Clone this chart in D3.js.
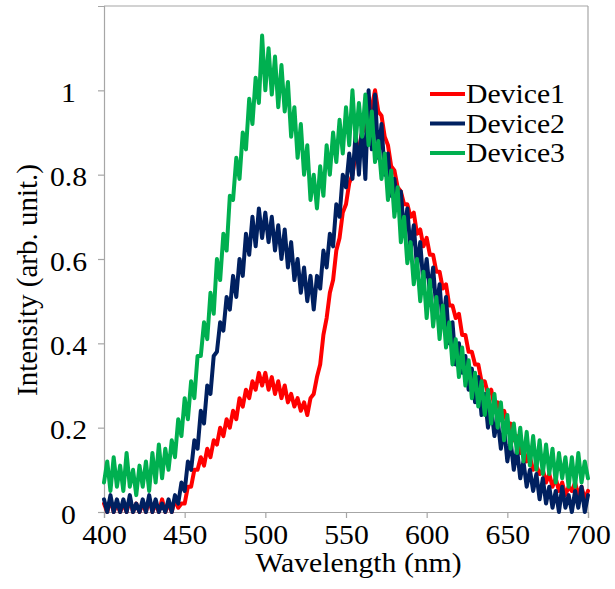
<!DOCTYPE html>
<html><head><meta charset="utf-8">
<script src="https://cdn.jsdelivr.net/npm/d3@7"></script>
</head><body style="margin:0">
<svg id="c" width="615" height="589"></svg>
<script>
// Wavelength grid (nm), 2 nm sampling
const wavelengths = d3.range(400, 701, 2);
const seriesNames = ["Device1", "Device2", "Device3"];
const seriesColors = ["#FF0000", "#002060", "#00B050"];
const xTicks = [400, 450, 500, 550, 600, 650, 700];
const yTicks = [0, 0.2, 0.4, 0.6, 0.8, 1];
const xTitle = "Wavelength (nm)";
const yTitle = "Intensity (arb. unit.)";

const device1 = [
0.02,0.00,0.03,0.00,0.02, 0.00,0.02,0.00,0.03,0.00,
0.02,0.00,0.02,0.00,0.03, 0.00,0.02,0.00,0.03,0.00,
0.02,0.00,0.03,0.01,0.02, 0.02,0.06,0.06,0.10,0.10,
0.13,0.11,0.15,0.13,0.17, 0.16,0.20,0.18,0.22,0.20,
0.24,0.22,0.27,0.25,0.29, 0.27,0.31,0.29,0.33,0.30,
0.33,0.29,0.32,0.28,0.31, 0.27,0.30,0.26,0.28,0.25,
0.27,0.24,0.26,0.23,0.27, 0.28,0.32,0.35,0.42,0.46,
0.52,0.55,0.62,0.65,0.71, 0.73,0.78,0.80,0.85,0.86,
0.90,0.91,0.95,0.96,1.00, 0.95,0.94,0.89,0.87,0.82,
0.81,0.77,0.76,0.73,0.73, 0.70,0.71,0.66,0.67,0.63,
0.65,0.61,0.61,0.57,0.57, 0.53,0.54,0.49,0.49,0.46,
0.47,0.42,0.42,0.38,0.38, 0.35,0.35,0.31,0.31,0.28,
0.29,0.25,0.26,0.23,0.24, 0.21,0.21,0.17,0.18,0.14,
0.15,0.12,0.13,0.10,0.11, 0.09,0.10,0.07,0.09,0.06,
0.08,0.05,0.07,0.04,0.06, 0.05,0.07,0.04,0.06,0.03,
0.05];

const device2 = [
0.03,0.00,0.04,0.00,0.03, 0.00,0.03,0.00,0.04,0.00,
0.02,0.00,0.03,0.00,0.04, 0.00,0.03,0.00,0.02,0.00,
0.03,0.00,0.04,0.02,0.07, 0.05,0.12,0.10,0.17,0.15,
0.24,0.21,0.30,0.28,0.37, 0.38,0.45,0.43,0.51,0.48,
0.56,0.51,0.60,0.56,0.66, 0.61,0.70,0.63,0.72,0.65,
0.71,0.64,0.70,0.62,0.68, 0.60,0.67,0.58,0.64,0.55,
0.60,0.52,0.58,0.50,0.56, 0.48,0.56,0.53,0.62,0.58,
0.66,0.63,0.73,0.70,0.80, 0.77,0.85,0.79,0.90,0.80,
0.92,0.79,1.00,0.86,0.99, 0.84,0.92,0.80,0.85,0.75,
0.79,0.72,0.76,0.66,0.72, 0.62,0.68,0.58,0.64,0.54,
0.60,0.52,0.58,0.48,0.54, 0.44,0.51,0.40,0.45,0.35,
0.40,0.33,0.37,0.29,0.34, 0.26,0.32,0.23,0.28,0.20,
0.25,0.18,0.22,0.15,0.20, 0.12,0.17,0.10,0.15,0.08,
0.12,0.06,0.10,0.05,0.09, 0.03,0.08,0.02,0.06,0.01,
0.05,0.00,0.06,0.01,0.04, 0.00,0.05,0.01,0.06,0.00,
0.04];

const device3 = [
0.07,0.12,0.05,0.13,0.06, 0.11,0.05,0.14,0.06,0.10,
0.04,0.11,0.06,0.12,0.05, 0.14,0.07,0.16,0.08,0.15,
0.10,0.17,0.13,0.22,0.18, 0.27,0.22,0.31,0.27,0.37,
0.37,0.45,0.41,0.52,0.47, 0.60,0.55,0.66,0.62,0.75,
0.74,0.84,0.79,0.90,0.86, 0.98,0.92,1.03,0.97,1.13,
1.00,1.10,0.99,1.08,0.96, 1.06,0.95,1.02,0.89,0.96,
0.84,0.92,0.80,0.87,0.74, 0.80,0.72,0.82,0.75,0.87,
0.80,0.90,0.83,0.93,0.85, 0.96,0.87,1.00,0.88,0.97,
0.89,0.99,0.87,0.95,0.83, 0.88,0.79,0.85,0.74,0.81,
0.70,0.77,0.64,0.70,0.59, 0.64,0.54,0.60,0.50,0.57,
0.46,0.55,0.44,0.51,0.41, 0.49,0.39,0.45,0.35,0.41,
0.32,0.39,0.30,0.36,0.27, 0.33,0.25,0.31,0.23,0.29,
0.21,0.28,0.20,0.26,0.17, 0.23,0.15,0.21,0.14,0.20,
0.12,0.19,0.11,0.18,0.10, 0.17,0.09,0.16,0.09,0.15,
0.07,0.14,0.08,0.13,0.06, 0.13,0.06,0.14,0.07,0.12,
0.08];

const seriesValues = [device1, device2, device3];

const svg = d3.select("#c");
const FONT = '"Liberation Serif"';
const SX = 1.1;

const x = d3.scaleLinear().domain([400, 700]).range([104, 588]);
const y = d3.scaleLinear().domain([0, 1.2]).range([512, 6]);

const axisColor = "#a6a6a6";

// frame (top & right)
svg.append("line").attr("x1", x(400)).attr("x2", x(700)).attr("y1", y(1.2)).attr("y2", y(1.2))
  .attr("stroke", axisColor).attr("stroke-width", 1.2);
svg.append("line").attr("x1", x(700)).attr("x2", x(700)).attr("y1", y(1.2)).attr("y2", y(0))
  .attr("stroke", axisColor).attr("stroke-width", 1.2);

// y axis
const gy = svg.append("g").attr("transform", `translate(${x(400)},0)`)
  .call(d3.axisLeft(y).tickValues(yTicks).tickSize(6).tickFormat(d => String(+d.toFixed(1))));
gy.attr("font-family", FONT).attr("font-size", 27);
gy.select(".domain").attr("stroke", axisColor).attr("stroke-width", 1.2);
gy.selectAll(".tick line").attr("stroke", axisColor).attr("stroke-width", 1.2);
gy.selectAll(".tick text")
  .attr("x", null).attr("dy", null)
  .attr("text-anchor", "middle")
  .attr("font-family", FONT).attr("font-size", 27).attr("fill", "#000")
  .attr("transform", `translate(${68.5 - x(400)},11) scale(${SX},1)`);

// x axis
const gx = svg.append("g").attr("transform", `translate(0,${y(0)})`)
  .call(d3.axisBottom(x).tickValues(xTicks).tickSize(6).tickFormat(d3.format("d")));
gx.attr("font-family", FONT).attr("font-size", 27);
gx.select(".domain").attr("stroke", axisColor).attr("stroke-width", 1.2);
gx.selectAll(".tick line").attr("stroke", axisColor).attr("stroke-width", 1.2);
gx.selectAll(".tick text")
  .attr("y", null).attr("dy", null)
  .attr("text-anchor", "middle")
  .attr("font-family", FONT).attr("font-size", 27).attr("fill", "#000")
  .attr("transform", `translate(0,32) scale(${SX},1)`);

// series
const line = d3.line().x((d, i) => x(wavelengths[i])).y(d => y(d));
seriesValues.forEach((vals, k) => {
  svg.append("path").datum(vals)
    .attr("d", line)
    .attr("fill", "none")
    .attr("stroke", seriesColors[k])
    .attr("stroke-width", 4)
    .attr("stroke-linejoin", "round")
    .attr("stroke-linecap", "round");
});

// legend
seriesNames.forEach((name, k) => {
  const ly = 94 + k * 29.5;
  svg.append("line").attr("x1", 430).attr("x2", 465).attr("y1", ly).attr("y2", ly)
    .attr("stroke", seriesColors[k]).attr("stroke-width", 4);
  svg.append("text").text(name)
    .attr("font-family", FONT).attr("font-size", 27).attr("fill", "#000")
    .attr("transform", `translate(466,${ly + 9}) scale(${SX},1)`);
});

// axis titles
svg.append("text").text(xTitle)
  .attr("text-anchor", "middle")
  .attr("font-family", FONT).attr("font-size", 27).attr("fill", "#000")
  .attr("transform", `translate(358.5,572) scale(${SX},1)`);
svg.append("text").text(yTitle)
  .attr("text-anchor", "middle")
  .attr("font-family", FONT).attr("font-size", 29).attr("fill", "#000")
  .attr("transform", `translate(37,280) rotate(-90)`);
</script></body></html>
